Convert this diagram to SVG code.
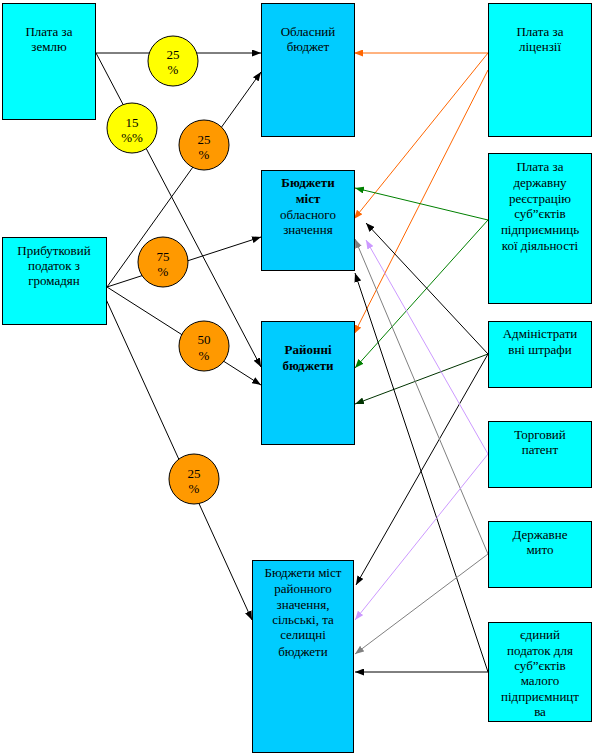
<svg xmlns="http://www.w3.org/2000/svg" width="594" height="756" viewBox="0 0 594 756">
<style>
.src{fill:#00FFFF;stroke:#000;stroke-width:1}
.dst{fill:#00CCFF;stroke:#000;stroke-width:1}
.cy{fill:#FFFF00;stroke:#000;stroke-width:1}
.co{fill:#FF9900;stroke:#000;stroke-width:1}
text{font-family:"Liberation Serif","Times New Roman",serif;font-size:13px;fill:#000;text-anchor:middle}
.b{font-weight:bold}
.ln{fill:none;stroke-width:1}
.k{stroke:#000;marker-end:url(#mk)}
.o{stroke:#FF6600;marker-end:url(#mo)}
.g{stroke:#008000;marker-end:url(#mg)}
.dg{stroke:#003300;marker-end:url(#mdg)}
.gr{stroke:#808080;marker-end:url(#mgr)}
.lv{stroke:#CC99FF;marker-end:url(#mlv)}
</style>
<defs>
<marker id="mk" viewBox="0 0 9 7" refX="9" refY="3.5" markerWidth="9" markerHeight="7" markerUnits="userSpaceOnUse" orient="auto"><path d="M0,0 L9,3.5 L0,7 z" fill="#000"/></marker>
<marker id="mo" viewBox="0 0 9 7" refX="9" refY="3.5" markerWidth="9" markerHeight="7" markerUnits="userSpaceOnUse" orient="auto"><path d="M0,0 L9,3.5 L0,7 z" fill="#FF6600"/></marker>
<marker id="mg" viewBox="0 0 9 7" refX="9" refY="3.5" markerWidth="9" markerHeight="7" markerUnits="userSpaceOnUse" orient="auto"><path d="M0,0 L9,3.5 L0,7 z" fill="#008000"/></marker>
<marker id="mdg" viewBox="0 0 9 7" refX="9" refY="3.5" markerWidth="9" markerHeight="7" markerUnits="userSpaceOnUse" orient="auto"><path d="M0,0 L9,3.5 L0,7 z" fill="#003300"/></marker>
<marker id="mgr" viewBox="0 0 9 7" refX="9" refY="3.5" markerWidth="9" markerHeight="7" markerUnits="userSpaceOnUse" orient="auto"><path d="M0,0 L9,3.5 L0,7 z" fill="#808080"/></marker>
<marker id="mlv" viewBox="0 0 9 7" refX="9" refY="3.5" markerWidth="9" markerHeight="7" markerUnits="userSpaceOnUse" orient="auto"><path d="M0,0 L9,3.5 L0,7 z" fill="#CC99FF"/></marker>
</defs>
<rect x="0" y="0" width="594" height="756" fill="#fff"/>

<g id="connectors">
<line class="ln k" x1="96" y1="53" x2="261" y2="53"/>
<line class="ln k" x1="96" y1="53" x2="261" y2="367"/>
<line class="ln k" x1="107" y1="287" x2="261" y2="72"/>
<line class="ln k" x1="107" y1="287" x2="261" y2="237"/>
<line class="ln k" x1="107" y1="287" x2="261" y2="385"/>
<line class="ln k" x1="105" y1="297" x2="252" y2="620"/>
<line class="ln o" x1="488" y1="53" x2="354" y2="53"/>
<line class="ln o" x1="488" y1="53" x2="354" y2="219"/>
<line class="ln o" x1="488" y1="70" x2="354" y2="334"/>
<line class="ln g" x1="488" y1="220" x2="355" y2="188"/>
<line class="ln g" x1="488" y1="220" x2="355" y2="368"/>
<line class="ln dg" x1="488" y1="354" x2="355" y2="404"/>
<line class="ln k" x1="488" y1="354" x2="366" y2="223"/>
<line class="ln k" x1="488" y1="354" x2="356" y2="585"/>
<line class="ln k" x1="488" y1="672" x2="355" y2="672"/>
<line class="ln k" x1="488" y1="672" x2="355" y2="273"/>
<line class="ln gr" x1="488" y1="554" x2="355" y2="239"/>
<line class="ln gr" x1="488" y1="554" x2="355" y2="654"/>
<line class="ln lv" x1="488" y1="454" x2="366" y2="240"/>
<line class="ln lv" x1="488" y1="454" x2="355" y2="620"/>
</g>

<g id="n-zemlia"><rect class="src" x="2.5" y="3.5" width="93" height="116"/><text x="49" y="36">Плата за</text><text x="49" y="51">землю</text></g>
<g id="n-prybutkovyi"><rect class="src" x="2.5" y="237.5" width="104" height="87"/><text x="54" y="255">Прибутковий</text><text x="54" y="270">податок з</text><text x="54" y="285">громадян</text></g>

<g id="n-oblasnyi"><rect class="dst" x="261.5" y="3.5" width="93" height="133"/><text x="308" y="36">Обласний</text><text x="308" y="51">бюджет</text></g>
<g id="n-mist-obl"><rect class="dst" x="261.5" y="170.5" width="93" height="100"/><text class="b" x="308" y="187">Бюджети</text><text class="b" x="308" y="203">міст</text><text x="308" y="219">обласного</text><text x="308" y="234">значення</text></g>
<g id="n-raionni"><rect class="dst" x="261.5" y="321.5" width="93" height="123"/><text class="b" x="308" y="354">Районні</text><text class="b" x="308" y="370">бюджети</text></g>
<g id="n-mist-rai"><rect class="dst" x="252.5" y="560.5" width="101" height="192"/><text x="303" y="577">Бюджети міст</text><text x="303" y="593">районного</text><text x="303" y="609">значення,</text><text x="303" y="624">сільські, та</text><text x="303" y="639">селищні</text><text x="303" y="656">бюджети</text></g>

<g id="n-litsenzii"><rect class="src" x="488.5" y="3.5" width="103" height="133"/><text x="540" y="36">Плата за</text><text x="540" y="51">ліцензії</text></g>
<g id="n-reiestratsiia"><rect class="src" x="488.5" y="153.5" width="103" height="150"/><text x="540" y="171">Плата за</text><text x="540" y="187">державну</text><text x="540" y="203">реєстрацію</text><text x="540" y="218">суб”єктів</text><text x="540" y="234">підприємниць</text><text x="540" y="250">кої діяльності</text></g>
<g id="n-shtrafy"><rect class="src" x="488.5" y="321.5" width="103" height="66"/><text x="540" y="338">Адміністрати</text><text x="540" y="354">вні штрафи</text></g>
<g id="n-patent"><rect class="src" x="488.5" y="421.5" width="103" height="66"/><text x="540" y="439">Торговий</text><text x="540" y="454">патент</text></g>
<g id="n-myto"><rect class="src" x="488.5" y="521.5" width="103" height="66"/><text x="540" y="539">Державне</text><text x="540" y="554">мито</text></g>
<g id="n-yedynyi"><rect class="src" x="488.5" y="622.5" width="103" height="99"/><text x="540" y="639">єдиний</text><text x="540" y="655">податок для</text><text x="540" y="670">суб”єктів</text><text x="540" y="685">малого</text><text x="540" y="701">підприємницт</text><text x="540" y="716">ва</text></g>

<g id="c-25a"><circle class="cy" cx="173" cy="61" r="25"/><text x="173" y="59">25</text><text x="173" y="74">%</text></g>
<g id="c-15"><circle class="cy" cx="132" cy="128" r="25"/><text x="132" y="127">15</text><text x="132" y="142">%%</text></g>
<g id="c-25b"><circle class="co" cx="204" cy="145" r="25"/><text x="204" y="144">25</text><text x="204" y="159">%</text></g>
<g id="c-75"><circle class="co" cx="163" cy="262" r="25"/><text x="163" y="261">75</text><text x="163" y="276">%</text></g>
<g id="c-50"><circle class="co" cx="204" cy="346" r="25"/><text x="204" y="344">50</text><text x="204" y="360">%</text></g>
<g id="c-25c"><circle class="co" cx="194" cy="479" r="25"/><text x="194" y="478">25</text><text x="194" y="493">%</text></g>
</svg>
